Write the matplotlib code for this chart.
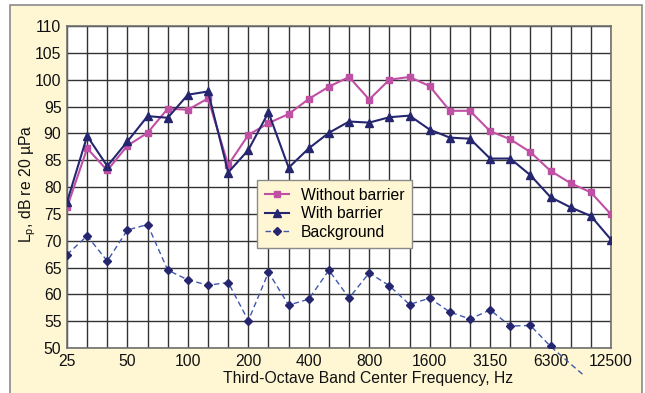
import matplotlib
matplotlib.use("Agg")
import matplotlib.pyplot as plt
from matplotlib.patches import Rectangle
from matplotlib.transforms import Bbox
from matplotlib.lines import Line2D
import numpy as np

plt.rcParams['font.family'] = ['Liberation Sans', 'DejaVu Sans']
plt.rcParams['mathtext.fontset'] = 'custom'
plt.rcParams['mathtext.rm'] = 'Liberation Sans'
plt.rcParams['mathtext.it'] = 'Liberation Sans:italic'

freqs = ["25", "31.5", "40", "50", "63", "80", "100", "125", "160", "200", "250", "315",
         "400", "500", "630", "800", "1000", "1250", "1600", "2000", "2500", "3150",
         "4000", "5000", "6300", "8000", "10000", "12500"]
tick_labels = ["25", "50", "100", "200", "400", "800", "1600", "3150", "6300", "12500"]

without_barrier = [76.2, 87.2, 83.1, 87.7, 90.1, 94.6, 94.4, 96.5, 84.1, 89.7, 91.9, 93.6,
                   96.4, 98.7, 100.5, 96.3, 100.0, 100.5, 98.8, 94.2, 94.2, 90.4,
                   88.9, 86.5, 83.0, 80.7, 79.0, 74.9]
with_barrier = [77.2, 89.5, 83.9, 88.5, 93.2, 92.9, 97.2, 97.8, 82.7, 86.9, 93.9, 83.6,
                87.2, 90.1, 92.2, 92.0, 93.0, 93.3, 90.7, 89.2, 89.0, 85.3,
                85.3, 82.2, 78.1, 76.2, 74.6, 70.2]
background = [67.4, 70.9, 66.2, 72.0, 73.0, 64.5, 62.7, 61.7, 62.2, 55.1, 64.1, 58.0,
              59.1, 64.5, 59.3, 64.0, 61.6, 58.1, 59.3, 56.7, 55.4, 57.1,
              54.1, 54.2, 50.3, 47.0, 43.8, np.nan]

W, H = 645, 393
FS = 11.3
cream = '#FFF7D4'
pink = '#C050A4'
navy = '#25266F'
dash_blue = '#4058AA'

fig = plt.figure(figsize=(W / 100, H / 100), dpi=100)
fig.patch.set_facecolor('white')

# chart-area frame
frame = Rectangle((10 / W, -0.05), (642 - 10) / W, 1 - 5 / H + 0.05,
                  transform=fig.transFigure, facecolor=cream, edgecolor='#8A8A8A',
                  linewidth=1.2, zorder=-10)
fig.patches.append(frame)

left, right, top, bottom = 67, 611, 26, 348
ax = fig.add_axes([left / W, 1 - bottom / H, (right - left) / W, (bottom - top) / H])
ax.set_facecolor('white')

x = np.arange(len(freqs))
ax.set_xlim(0, len(freqs) - 1)
ax.set_ylim(50, 110)
ax.set_yticks(np.arange(50, 111, 5))
ax.set_xticks(x)
ax.set_xticklabels([f if f in tick_labels else "" for f in freqs])
ax.tick_params(axis='both', length=0, labelsize=FS, colors='#111111')
ax.tick_params(axis='y', pad=4)
ax.tick_params(axis='x', pad=4)
ax.grid(True, color='#333333', linewidth=1.0)
ax.set_axisbelow(True)
for s in ax.spines.values():
    s.set_color('#707070')
    s.set_linewidth(1.2)

l1, = ax.plot(x, without_barrier, color=pink, marker='s', markersize=5, linewidth=1.5,
              label='Without barrier', zorder=3)
l2, = ax.plot(x, with_barrier, color=navy, marker='^', markersize=6, linewidth=1.5,
              label='With barrier', zorder=4)
# background dashed line, drawn beyond the plot area down to the chart frame
bl, = ax.plot(x, background, color=dash_blue, linestyle=(0, (4, 2.5)), linewidth=1.0,
              zorder=5)
bl.set_clip_path(None)
bl.set_clip_box(Bbox.from_extents(0, 393 - 374.5, W, H))
bg_in = [v if v >= 50 else np.nan for v in background]
ax.plot(x, bg_in, linestyle='none', marker='D', markersize=4.2, color=navy, zorder=6)
h3 = Line2D([], [], color=dash_blue, linestyle=(0, (4, 2.5)), linewidth=1.0,
            marker='D', markersize=4.2, markerfacecolor=navy, markeredgecolor=navy)

leg = ax.legend([l1, l2, h3], ['Without barrier', 'With barrier', 'Background'],
                loc='upper left', bbox_to_anchor=(257 / W, 1 - 180 / H),
                bbox_transform=fig.transFigure, fontsize=FS, frameon=True,
                fancybox=False, framealpha=1, facecolor=cream, edgecolor='#8A8A8A',
                handlelength=1.55, handletextpad=0.75, labelspacing=0.22,
                borderpad=0.5, borderaxespad=0)
leg.get_frame().set_linewidth(1.0)
leg.set_zorder(10)

fig.text(368 / W, 1 - 378 / H, 'Third-Octave Band Center Frequency, Hz',
         ha='center', va='center', fontsize=FS, color='#111111')
fig.text(28 / W, 1 - 184 / H, r'L$_\mathrm{p}$, dB re 20 µPa', rotation=90,
         ha='center', va='center', fontsize=FS, color='#111111')

fig.savefig('out.png', dpi=100, facecolor=fig.get_facecolor())
